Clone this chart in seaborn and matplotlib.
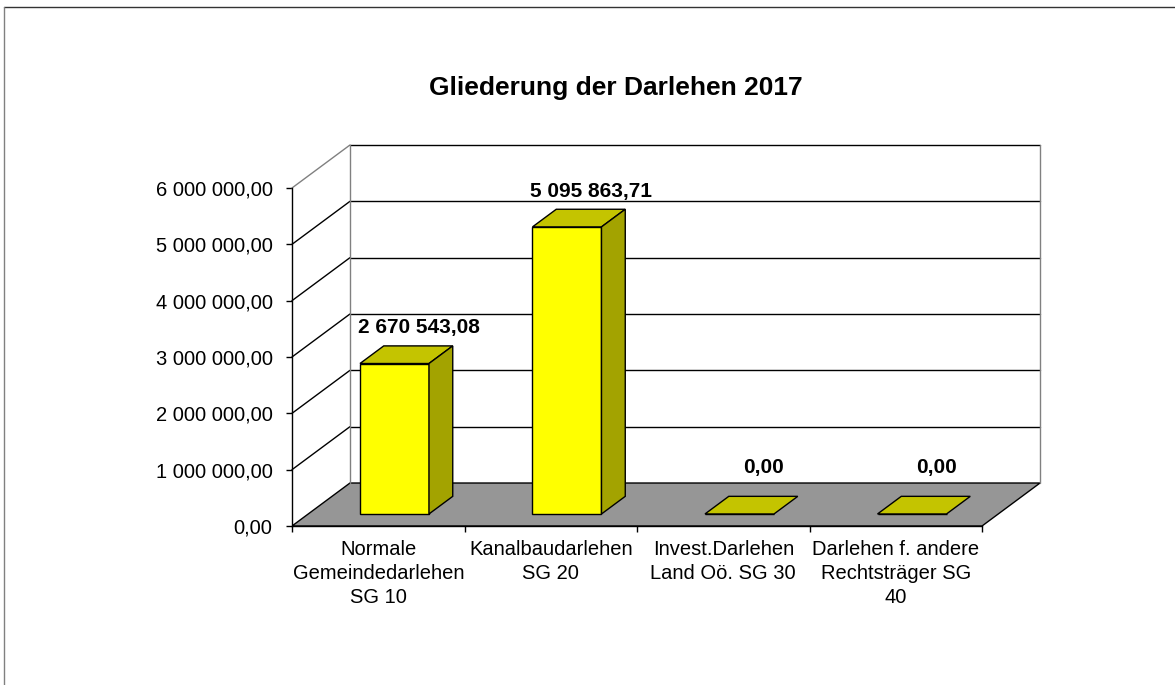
import numpy as np
import matplotlib
matplotlib.use("Agg")
import matplotlib.pyplot as plt
from matplotlib.patches import Polygon
from matplotlib.lines import Line2D
from matplotlib.ticker import FuncFormatter
import seaborn as sns

sns.set_style("white")
plt.rcParams['font.family'] = ['Liberation Sans', 'DejaVu Sans']
plt.rcParams['text.color'] = 'black'
plt.rcParams['xtick.color'] = 'black'
plt.rcParams['ytick.color'] = 'black'
plt.rcParams['axes.labelcolor'] = 'black'

# data
title = "Gliederung der Darlehen 2017"
categories = ["Normale\nGemeindedarlehen\nSG 10",
              "Kanalbaudarlehen\nSG 20",
              "Invest.Darlehen\nLand Oö. SG 30",
              "Darlehen f. andere\nRechtsträger SG\n40"]
values = [2670543.08, 5095863.71, 0.0, 0.0]
y_ticks = [0, 1000000, 2000000, 3000000, 4000000, 5000000, 6000000]


def fmt_de(x, pos=None):
    # 2 670 543,08
    return f"{x:,.2f}".replace(",", " ").replace(".", ",")


W, H = 1175, 685
fig = plt.figure(figsize=(W / 100, H / 100), dpi=100)
ax = fig.add_axes([292 / W, 159 / H, 748 / W, 381 / H])

n = len(categories)
ymax = y_ticks[-1]
DX, DY = 0.336, 0.763e6   # depth of the pseudo 3d box (data units)
F, D = 0.28, 0.41         # bar start depth / bar thickness (fraction of box depth)

# floor
ax.add_patch(Polygon([(-0.5, 0), (n - 0.5, 0), (n - 0.5 + DX, DY), (-0.5 + DX, DY)],
                     closed=True, facecolor='#969696', edgecolor='black', lw=1, zorder=1))

# back wall + gridlines
for t in y_ticks[1:]:
    c = '#808080' if t == ymax else 'black'
    ax.plot([-0.5, -0.5 + DX], [t, t + DY], color=c, lw=1, zorder=1, clip_on=False)
    ax.plot([-0.5 + DX, n - 0.5 + DX], [t + DY, t + DY], color='black', lw=1, zorder=1, clip_on=False)
ax.plot([-0.5 + DX] * 2, [DY, ymax + DY], color='#808080', lw=1, zorder=1, clip_on=False)
ax.plot([n - 0.5 + DX] * 2, [DY, ymax + DY], color='#808080', lw=1, zorder=1, clip_on=False)

# front faces of bars
sns.barplot(x=categories, y=values, color='#FFFF00', saturation=1, width=0.4,
            edgecolor='black', linewidth=1, errorbar=None, ax=ax, zorder=3)

for i, (bar, v) in enumerate(zip(ax.containers[0], values)):
    bar.set_x(bar.get_x() + F * DX)
    bar.set_y(F * DY)
    x0 = bar.get_x()
    x1 = x0 + bar.get_width()
    base = F * DY
    top = base + v
    # top face
    ax.add_patch(Polygon([(x0, top), (x1, top), (x1 + D * DX, top + D * DY), (x0 + D * DX, top + D * DY)],
                         closed=True, facecolor='#C4C400', edgecolor='black', lw=1, zorder=3))
    # side face
    if v > 0:
        ax.add_patch(Polygon([(x1, base), (x1 + D * DX, base + D * DY),
                              (x1 + D * DX, top + D * DY), (x1, top)],
                             closed=True, facecolor='#A3A300', edgecolor='black', lw=1, zorder=3))
    gap = 0.22e6 if v > 0 else 0.42e6
    ax.text(i + 0.7 * DX, top + D * DY + gap, fmt_de(v), ha='center', va='baseline',
            fontsize=15, fontweight='bold', zorder=4)

ax.set_xlim(-0.5, n - 0.5 + DX)
ax.set_ylim(0, ymax + DY)
ax.set_xlabel('')
ax.set_ylabel('')

ax.set_yticks(y_ticks)
ax.yaxis.set_major_formatter(FuncFormatter(fmt_de))
ax.tick_params(axis='y', direction='out', length=4, width=1, pad=10,
               labelsize=14.5, left=True, color='black')
ax.set_xticks(np.arange(-0.5, n, 1.0), minor=True)
ax.tick_params(axis='x', which='major', length=0, pad=10, labelsize=14.5)
ax.tick_params(axis='x', which='minor', direction='out', length=4, width=1,
               bottom=True, color='black')
for lab in ax.get_xticklabels():
    lab.set_linespacing(1.35)

for s in ['top', 'right']:
    ax.spines[s].set_visible(False)
ax.spines['left'].set_bounds(0, ymax)
ax.spines['bottom'].set_bounds(-0.5, n - 0.5)
for s in ['left', 'bottom']:
    ax.spines[s].set_color('black')
    ax.spines[s].set_linewidth(1)
ax.patch.set_alpha(0)

# title and outer frame
fig.text(616 / W, 1 - 88 / H, title, ha='center', va='center', fontsize=19, fontweight='bold')
fig.add_artist(Line2D([4 / W, 1], [1 - 7 / H, 1 - 7 / H], color='#333333', lw=1))
fig.add_artist(Line2D([4 / W, 4 / W], [0, 1 - 7 / H], color='#808080', lw=1))

fig.savefig('out.png', dpi=100)
